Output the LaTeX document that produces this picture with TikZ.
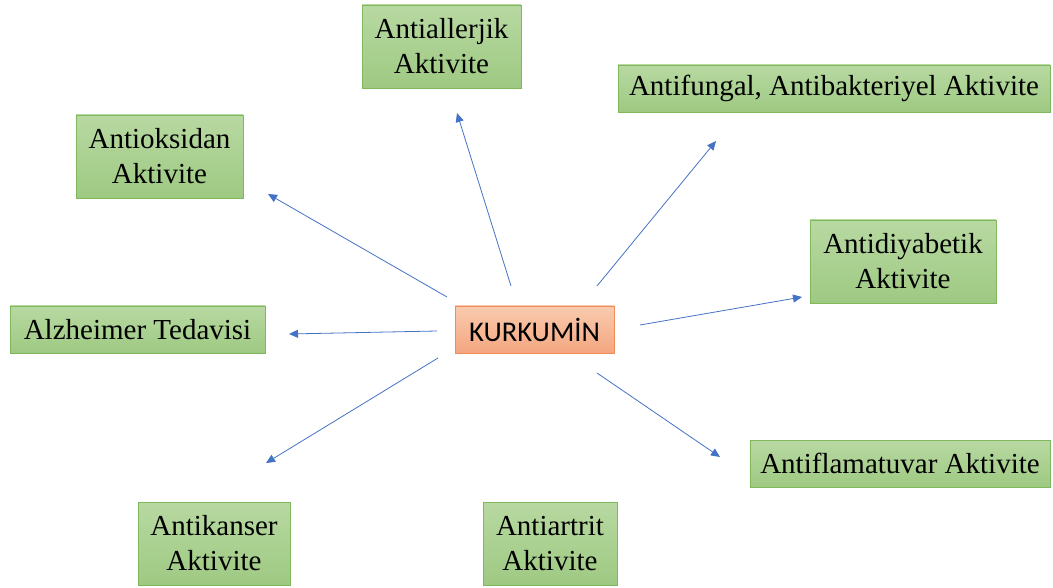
\documentclass[tikz,border=0pt]{standalone}
\usepackage{fontspec}
\setmainfont{Liberation Serif}
\newfontfamily\calib{Carlito}
\usetikzlibrary{arrows.meta}
\definecolor{gtop}{RGB}{184,217,162}
\definecolor{gbot}{RGB}{158,201,130}
\definecolor{gline}{RGB}{128,184,92}
\definecolor{otop}{RGB}{249,203,175}
\definecolor{obot}{RGB}{244,166,128}
\definecolor{oline}{RGB}{240,140,88}
\definecolor{arr}{RGB}{68,114,196}
\tikzset{
  gbox/.style={draw=gline, line width=0.8pt, top color=gtop, bottom color=gbot, align=center,
    font=\fontsize{29}{35}\selectfont, inner sep=0pt},
  obox/.style={draw=oline, line width=0.8pt, top color=otop, bottom color=obot,
    font=\calib\fontsize{28.5}{34}\selectfont, inner sep=0pt},
  link/.style={draw=arr, line width=0.8pt, -{Triangle[length=9pt,width=8pt]}}
}
\begin{document}
\begin{tikzpicture}[x=1pt,y=-1pt]
\useasboundingbox (0,0) rectangle (1053,588);
\node[gbox, minimum width=159pt, minimum height=83pt] (allerj) at (441.5,46.5) {Antiallerjik\\Aktivite};
\node[gbox, minimum width=432pt, minimum height=47pt] (fung) at (834,88.5) {Antifungal, Antibakteriyel Aktivite};
\node[gbox, minimum width=167pt, minimum height=83pt] (oks) at (159.5,156.5) {Antioksidan\\Aktivite};
\node[gbox, minimum width=186pt, minimum height=83pt] (diy) at (903,261.5) {Antidiyabetik\\Aktivite};
\node[gbox, minimum width=255pt, minimum height=47pt] (alz) at (137.5,329.5) {Alzheimer Tedavisi};
\node[obox, minimum width=159pt, minimum height=47pt] (kur) at (534.5,329.5) {KURKUMİN};
\node[gbox, minimum width=300pt, minimum height=47pt] (flam) at (900,463.5) {Antiflamatuvar Aktivite};
\node[gbox, minimum width=152pt, minimum height=83pt] (kans) at (214,543.5) {Antikanser\\Aktivite};
\node[gbox, minimum width=134pt, minimum height=83pt] (art) at (550,543.5) {Antiartrit\\Aktivite};
% arrow start and end points
\coordinate (s1) at (511,286); \coordinate (e1) at (457,113);
\coordinate (s2) at (597,286); \coordinate (e2) at (716,141);
\coordinate (s3) at (447,297); \coordinate (e3) at (268,194);
\coordinate (s4) at (640,325); \coordinate (e4) at (802,297);
\coordinate (s5) at (437,331); \coordinate (e5) at (289,334);
\coordinate (s6) at (597,373); \coordinate (e6) at (720,457);
\coordinate (s7) at (438,358); \coordinate (e7) at (266,463);
\draw[link] (s1) -- (e1);
\draw[link] (s2) -- (e2);
\draw[link] (s3) -- (e3);
\draw[link] (s4) -- (e4);
\draw[link] (s5) -- (e5);
\draw[link] (s6) -- (e6);
\draw[link] (s7) -- (e7);
\end{tikzpicture}
\end{document}
